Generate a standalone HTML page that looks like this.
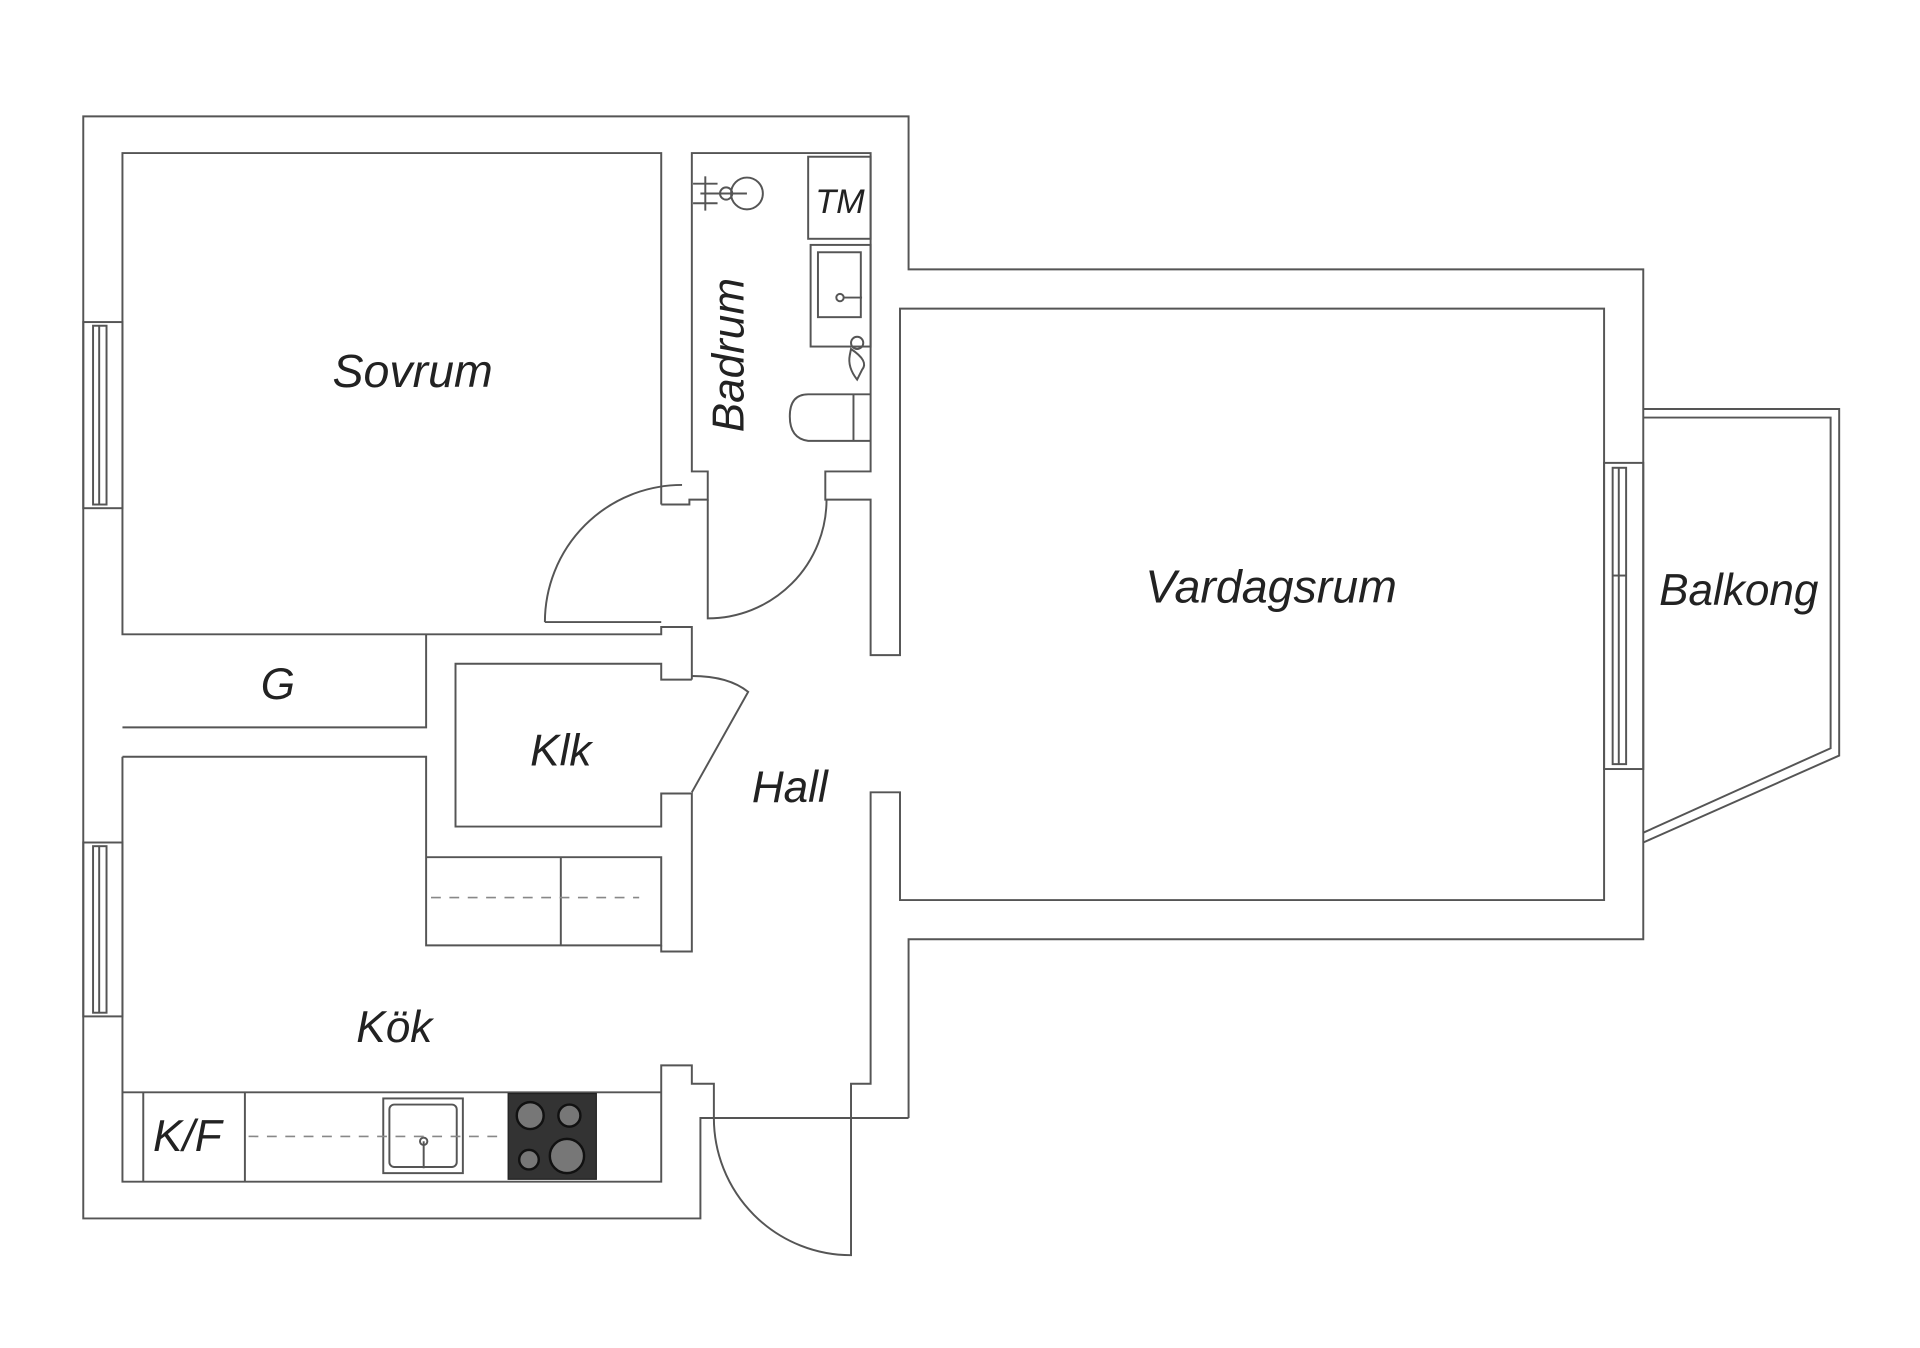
<!DOCTYPE html>
<html><head><meta charset="utf-8"><style>
html,body{margin:0;padding:0;background:#fff;}
svg{display:block;}
text{font-family:"Liberation Sans",sans-serif;font-style:italic;fill:#222;}
</style></head><body>
<svg width="1920" height="1348" viewBox="0 0 1568 1100.8" preserveAspectRatio="none" xmlns="http://www.w3.org/2000/svg">
<g fill="none" stroke="#555" stroke-width="1.6">
<path d="M742,913 V767 H1342 V220 H742 V95 H68 V995 H572 V913 H742"/>
<path d="M540,412 V125 H100 V518 H540 V512 H565 V555"/>
<path d="M348,518 V594 H100"/>
<path d="M100,618 H348 V772 H540 V700 H348"/>
<line x1="458" y1="700" x2="458" y2="772"/>
<path d="M540,772 V777 H565 V648 H540 V675 H372 V542 H540 V555 H565"/>
<path d="M100,618 V965 H540 V870 H565 V885 H583 V913"/>
<path d="M100,892 H540"/>
<line x1="117" y1="892" x2="117" y2="965"/>
<line x1="200" y1="892" x2="200" y2="965"/>
<path d="M540,412 H563 V408 H578 V385 H565 V125 H711 V385 H674 V408 H711 V535 H735 V252 H1310 V735 H735 V647 H711 V885 H695 V913"/>
<path d="M445,508 A112,112 0 0 1 557,396"/>
<line x1="445" y1="508" x2="540" y2="508"/>
<path d="M578,408 V505 A97,97 0 0 0 675,408"/>
<path d="M565,552 Q595,552 611,565 L565,647"/>
<path d="M583,913 A112,112 0 0 0 695,1025 V913"/>
<line x1="572" y1="913" x2="583" y2="913"/>
<rect x="68" y="263" width="32" height="152"/>
<rect x="76" y="266" width="11" height="146"/>
<line x1="81" y1="266" x2="81" y2="412"/>
<rect x="68" y="688" width="32" height="142"/>
<rect x="76" y="691" width="11" height="136"/>
<line x1="81" y1="691" x2="81" y2="827"/>
<rect x="1310" y="378" width="32" height="250"/>
<rect x="1317" y="382" width="11" height="242"/>
<line x1="1322" y1="382" x2="1322" y2="624"/>
<line x1="1317" y1="470" x2="1328" y2="470"/>
<path d="M1342,334 H1502 V617 L1342,688"/>
<path d="M1342,341 H1495 V611 L1342,680"/>
<rect x="660" y="128" width="51" height="67"/>
<rect x="662" y="200" width="49" height="83"/>
<rect x="668" y="206" width="35" height="53"/>
<circle cx="610" cy="158" r="13"/>
<line x1="572" y1="158" x2="610" y2="158"/>
<line x1="576" y1="144" x2="576" y2="172"/>
<line x1="566" y1="150" x2="586" y2="150"/>
<line x1="566" y1="166" x2="586" y2="166"/>
<circle cx="593" cy="158" r="5"/>
<circle cx="686" cy="243" r="3"/>
<line x1="689" y1="243" x2="704" y2="243"/>
<path d="M711,322 H660 Q645,322 645,340 Q645,358 660,360 H711"/>
<line x1="697" y1="322" x2="697" y2="360"/>
<path d="M695,285 Q710,295 704,302 L700,310 Q692,300 694,290 Z"/>
<circle cx="700" cy="280" r="5"/>
<rect x="313" y="897" width="65" height="61"/>
<rect x="318" y="902" width="55" height="51" rx="4"/>
<line x1="346" y1="932" x2="346" y2="954"/>
<circle cx="346" cy="932" r="3"/>
</g>
<g fill="none" stroke="#888" stroke-width="1.3" stroke-dasharray="8,7">
<line x1="352" y1="733" x2="522" y2="733"/>
<line x1="203" y1="928" x2="413" y2="928"/>
</g>
<rect x="415" y="893" width="72" height="70" fill="#333" stroke="#222"/>
<g fill="#777" stroke="#111" stroke-width="2">
<circle cx="433" cy="911" r="11"/>
<circle cx="465" cy="911" r="9"/>
<circle cx="432" cy="947" r="8"/>
<circle cx="463" cy="944" r="14"/>
</g>
<text x="337" y="316" font-size="38" text-anchor="middle">Sovrum</text>
<text x="1038" y="492" font-size="38" text-anchor="middle">Vardagsrum</text>
<text x="1420" y="494" font-size="36" text-anchor="middle">Balkong</text>
<text x="227" y="571" font-size="36" text-anchor="middle">G</text>
<text x="458" y="625" font-size="36" text-anchor="middle">Klk</text>
<text x="645" y="655" font-size="36" text-anchor="middle">Hall</text>
<text x="322" y="851" font-size="36" text-anchor="middle">Kök</text>
<text x="153" y="940" font-size="36" text-anchor="middle">K/F</text>
<text x="686" y="174" font-size="28" text-anchor="middle">TM</text>
<text transform="translate(607,290) rotate(-90)" font-size="36" text-anchor="middle">Badrum</text>
</svg>
</body></html>
